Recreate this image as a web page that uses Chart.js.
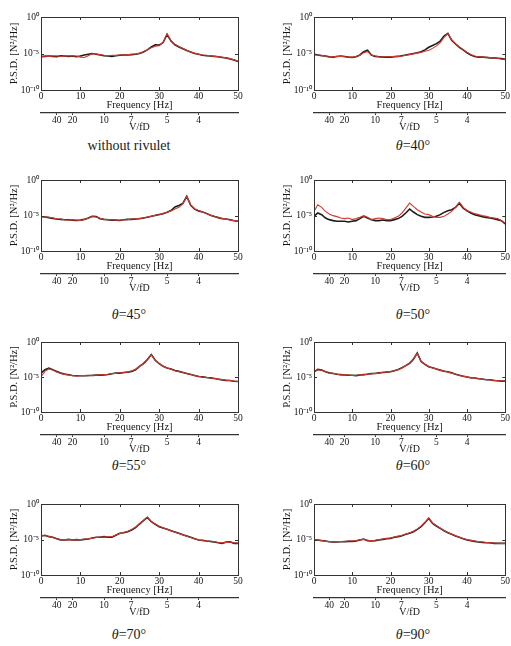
<!DOCTYPE html>
<html>
<head>
<meta charset="utf-8">
<script src="https://cdn.jsdelivr.net/npm/chart.js@4.4.1/dist/chart.umd.min.js"></script>
<style>
  body { margin: 0; background: #fff; width: 511px; height: 646px; overflow: hidden; position: relative; }
  canvas { position: absolute; }
  .cap { position: absolute; width: 200px; text-align: center; font-family: 'Liberation Serif', serif; font-size: 14px; line-height: 16px; color: #1a1a1a; }
</style>
</head>
<body>
<script>
// frequency axis (Hz), one point per Hz
const freq = [0,1,2,3,4,5,6,7,8,9,10,11,12,13,14,15,16,17,18,19,20,21,22,23,24,25,26,27,28,29,30,31,32,33,34,35,36,37,38,39,40,41,42,43,44,45,46,47,48,49,50];

// log10 of P.S.D. [N^2/Hz] (black and red curves)
const noRivuletBlack = [-5.45,-5.40,-5.35,-5.40,-5.45,-5.30,-5.35,-5.40,-5.35,-5.45,-5.35, -5.20,-5.10,-5.00,-5.10,-5.20,-5.30,-5.35,-5.40,-5.30,-5.25, -5.20,-5.20,-5.15,-5.10,-5.00,-4.80,-4.50,-4.10,-3.80,-3.85, -3.50,-2.40,-3.30,-3.80,-4.10,-4.35,-4.60,-4.80,-5.00,-5.10, -5.25,-5.30,-5.35,-5.40,-5.45,-5.55,-5.60,-5.75,-5.90,-6.10];
const noRivuletRed   = [-5.40,-5.35,-5.40,-5.35,-5.30,-5.40,-5.30,-5.35,-5.30,-5.35,-5.50, -5.55,-5.30,-5.05,-5.05,-5.15,-5.25,-5.30,-5.25,-5.25,-5.20, -5.20,-5.15,-5.10,-5.05,-4.95,-4.75,-4.50,-4.20,-4.00,-3.95, -3.45,-2.30,-3.25,-3.75,-4.05,-4.30,-4.55,-4.80,-4.95,-5.10, -5.20,-5.25,-5.30,-5.40,-5.45,-5.50,-5.60,-5.70,-5.85,-6.05];

const deg40Black = [-5.10,-5.20,-5.30,-5.35,-5.45,-5.50,-5.40,-5.35,-5.40,-5.50,-5.55, -5.45,-5.20,-4.75,-4.55,-5.20,-5.40,-5.45,-5.50,-5.50,-5.50, -5.45,-5.40,-5.30,-5.20,-5.10,-5.00,-4.90,-4.75,-4.50,-4.15, -3.90,-3.65,-3.30,-2.60,-2.25,-3.20,-3.70,-4.15,-4.50,-4.90, -5.20,-5.40,-5.50,-5.50,-5.55,-5.60,-5.60,-5.65,-5.70,-5.80];
const deg40Red   = [-5.15,-5.20,-5.25,-5.40,-5.50,-5.45,-5.40,-5.40,-5.45,-5.50,-5.50, -5.40,-5.25,-4.90,-4.75,-5.20,-5.35,-5.45,-5.50,-5.45,-5.45, -5.40,-5.40,-5.35,-5.25,-5.15,-5.05,-4.95,-4.85,-4.70,-4.55, -4.30,-3.95,-3.50,-2.80,-2.30,-3.10,-3.65,-4.10,-4.45,-4.85, -5.15,-5.35,-5.45,-5.50,-5.50,-5.55,-5.60,-5.65,-5.75,-5.80];

const deg45Black = [-5.15,-5.20,-5.30,-5.40,-5.50,-5.55,-5.60,-5.60,-5.65,-5.70,-5.65, -5.55,-5.35,-5.10,-5.15,-5.45,-5.55,-5.60,-5.65,-5.65,-5.70, -5.60,-5.55,-5.55,-5.50,-5.45,-5.35,-5.25,-5.10,-5.00,-4.85, -4.75,-4.55,-4.30,-3.80,-3.60,-3.30,-2.30,-3.55,-4.10,-4.35, -4.50,-4.70,-4.95,-5.15,-5.30,-5.45,-5.50,-5.60,-5.75,-5.80];
const deg45Red   = [-5.10,-5.20,-5.25,-5.35,-5.45,-5.50,-5.60,-5.65,-5.60,-5.65,-5.70, -5.55,-5.40,-5.15,-5.20,-5.40,-5.55,-5.60,-5.60,-5.65,-5.65, -5.60,-5.60,-5.50,-5.45,-5.40,-5.35,-5.20,-5.10,-4.95,-4.90, -4.70,-4.55,-4.35,-4.10,-3.85,-3.35,-2.35,-3.50,-4.05,-4.30, -4.50,-4.75,-4.95,-5.10,-5.30,-5.40,-5.50,-5.65,-5.70,-5.80];

const deg50Black = [-5.12,-4.65,-4.88,-5.35,-5.58,-5.72,-5.81,-5.81,-5.81,-5.91,-5.81, -5.72,-5.44,-5.12,-5.35,-5.58,-5.72,-5.72,-5.63,-5.72,-5.72, -5.58,-5.44,-5.12,-4.65,-4.09,-4.51,-4.88,-5.12,-5.26,-5.26, -5.21,-5.12,-4.88,-4.56,-4.33,-4.19,-3.86,-3.26,-3.95,-4.33, -4.65,-4.88,-5.02,-5.16,-5.26,-5.35,-5.44,-5.58,-5.72,-6.19];
const deg50Red   = [-4.42,-3.49,-3.86,-4.42,-4.79,-5.02,-5.16,-5.35,-5.44,-5.35,-5.58, -5.44,-5.26,-5.02,-5.26,-5.58,-5.44,-5.35,-5.44,-5.58,-5.58, -5.35,-5.12,-4.65,-3.95,-3.26,-3.72,-4.19,-4.51,-4.79,-4.88, -5.12,-5.26,-5.26,-5.12,-4.79,-4.42,-3.86,-3.12,-3.86,-4.33, -4.51,-4.74,-4.88,-5.02,-5.12,-5.26,-5.35,-5.44,-5.72,-6.05];

const deg55Black = [-4.44,-3.96,-3.72,-3.96,-4.20,-4.44,-4.59,-4.69,-4.78,-4.83,-4.83, -4.83,-4.78,-4.78,-4.73,-4.73,-4.69,-4.64,-4.54,-4.44,-4.44, -4.35,-4.30,-4.20,-3.96,-3.48,-3.09,-2.51,-1.79,-2.61,-3.09, -3.48,-3.72,-3.86,-4.06,-4.20,-4.35,-4.49,-4.64,-4.78,-4.93, -4.98,-5.07,-5.12,-5.22,-5.31,-5.41,-5.51,-5.51,-5.60,-5.65];
const deg55Red   = [-4.95,-4.20,-3.85,-4.00,-4.30,-4.50,-4.62,-4.72,-4.80,-4.85,-4.80, -4.80,-4.82,-4.75,-4.76,-4.70,-4.66,-4.60,-4.50,-4.48,-4.40, -4.38,-4.28,-4.15,-3.90,-3.50,-3.15,-2.55,-1.85,-2.65,-3.05, -3.45,-3.70,-3.90,-4.10,-4.22,-4.32,-4.50,-4.62,-4.80,-4.90, -5.00,-5.05,-5.15,-5.20,-5.30,-5.38,-5.45,-5.52,-5.58,-5.65];

const deg60Black = [-4.26,-3.92,-4.02,-4.26,-4.41,-4.51,-4.61,-4.66,-4.71,-4.75,-4.75, -4.80,-4.71,-4.66,-4.61,-4.51,-4.51,-4.41,-4.36,-4.31,-4.26, -4.12,-3.92,-3.68,-3.38,-3.04,-2.45,-1.57,-2.79,-3.19,-3.53, -3.68,-3.87,-4.02,-4.17,-4.26,-4.41,-4.61,-4.75,-4.90,-5.00, -5.10,-5.15,-5.25,-5.29,-5.39,-5.39,-5.49,-5.54,-5.59,-5.59];
const deg60Red   = [-4.30,-3.98,-4.00,-4.20,-4.45,-4.48,-4.58,-4.70,-4.68,-4.72,-4.78, -4.75,-4.68,-4.70,-4.58,-4.55,-4.48,-4.44,-4.32,-4.30,-4.22, -4.10,-3.95,-3.70,-3.35,-3.00,-2.40,-1.62,-2.75,-3.15,-3.50, -3.70,-3.85,-4.05,-4.15,-4.30,-4.45,-4.58,-4.78,-4.88,-4.98, -5.12,-5.12,-5.22,-5.32,-5.35,-5.42,-5.45,-5.55,-5.56,-5.60];

const deg70Black = [-4.51,-4.41,-4.60,-4.69,-4.88,-5.07,-5.07,-4.98,-5.07,-5.02,-5.07, -4.98,-4.93,-4.79,-4.69,-4.69,-4.60,-4.69,-4.69,-4.41,-4.13, -4.04,-3.90,-3.66,-3.33,-2.82,-2.35,-1.88,-2.49,-2.86,-3.19, -3.38,-3.57,-3.76,-3.94,-4.13,-4.32,-4.51,-4.69,-4.88,-5.07, -5.12,-5.21,-5.26,-5.35,-5.45,-5.54,-5.35,-5.31,-5.54,-5.54];
const deg70Red   = [-4.45,-4.48,-4.55,-4.72,-4.90,-5.00,-5.05,-5.02,-5.05,-5.05,-5.00, -4.95,-4.90,-4.82,-4.72,-4.65,-4.65,-4.62,-4.60,-4.38,-4.15, -4.00,-3.85,-3.60,-3.25,-2.75,-2.30,-1.85,-2.45,-2.82,-3.15, -3.35,-3.55,-3.78,-3.98,-4.15,-4.35,-4.55,-4.72,-4.90,-5.05, -5.15,-5.18,-5.28,-5.32,-5.42,-5.50,-5.40,-5.35,-5.50,-5.50];

const deg90Black = [-5.07,-5.07,-5.16,-5.21,-5.31,-5.35,-5.35,-5.31,-5.31,-5.26,-5.26, -5.21,-5.07,-4.93,-5.16,-5.21,-5.16,-5.07,-4.98,-4.88,-4.84, -4.69,-4.60,-4.46,-4.27,-4.13,-3.90,-3.57,-3.19,-2.63,-2.02, -2.72,-3.10,-3.43,-3.76,-4.04,-4.27,-4.51,-4.69,-4.88,-5.07, -5.16,-5.26,-5.35,-5.40,-5.45,-5.45,-5.54,-5.54,-5.54,-5.54];
const deg90Red   = [-5.02,-5.10,-5.15,-5.25,-5.30,-5.32,-5.30,-5.28,-5.25,-5.22,-5.20, -5.15,-5.05,-4.98,-5.10,-5.15,-5.10,-5.02,-4.92,-4.85,-4.78, -4.65,-4.52,-4.40,-4.22,-4.05,-3.85,-3.50,-3.12,-2.58,-2.00, -2.68,-3.05,-3.38,-3.72,-4.00,-4.25,-4.48,-4.68,-4.85,-5.02, -5.12,-5.22,-5.30,-5.36,-5.42,-5.48,-5.50,-5.52,-5.55,-5.55];

const captions = ['without rivulet', '40', '45', '50', '55', '60', '70', '90'];
const blackSeries = [noRivuletBlack, deg40Black, deg45Black, deg50Black, deg55Black, deg60Black, deg70Black, deg90Black];
const redSeries = [noRivuletRed, deg40Red, deg45Red, deg50Red, deg55Red, deg60Red, deg70Red, deg90Red];

// tick labels
const freqTicks = [0, 10, 20, 30, 40, 50];
const vfdTicks = [40, 20, 10, 7, 5, 4];
const vfdConst = 160;          // V/fD = 160 / f
const yTickExps = [-10, -5, 0];

// layout of the 2x4 grid (pixels)
const colLeft = [0, 273];
const colWidth = [250, 238];
const capCenter = [129, 413];
const rowTop = [5, 168, 330, 492];
const rowHeight = [128, 126, 125, 126];
const capTop = [138, 307, 458, 627];

const serif = "'Liberation Serif', 'Times New Roman', serif";
Chart.defaults.font.family = serif;
Chart.defaults.color = '#141414';

const supDigits = { '-': '\u207B', '0': '\u2070', '1': '\u00B9', '2': '\u00B2', '3': '\u00B3', '4': '\u2074', '5': '\u2075', '6': '\u2076', '7': '\u2077', '8': '\u2078', '9': '\u2079' };
function sup(n) {
  return String(n).split('').map(c => supDigits[c]).join('');
}

// box around the plot area with small inward ticks
const framePlugin = {
  id: 'frame',
  afterDraw(chart) {
    const { ctx, chartArea: a, scales } = chart;
    ctx.save();
    ctx.strokeStyle = '#333';
    ctx.lineWidth = 1;
    ctx.strokeRect(Math.round(a.left) + 0.5, Math.round(a.top) + 0.5, Math.round(a.right - a.left), Math.round(a.bottom - a.top));
    ctx.beginPath();
    scales.x.ticks.forEach(t => {
      const px = Math.round(scales.x.getPixelForValue(t.value)) + 0.5;
      ctx.moveTo(px, a.top); ctx.lineTo(px, a.top + 3);
      ctx.moveTo(px, a.bottom); ctx.lineTo(px, a.bottom - 3);
    });
    scales.y.ticks.forEach(t => {
      const py = Math.round(scales.y.getPixelForValue(t.value)) + 0.5;
      ctx.moveTo(a.left, py); ctx.lineTo(a.left + 3, py);
      ctx.moveTo(a.right, py); ctx.lineTo(a.right - 3, py);
    });
    ctx.stroke();
    ctx.restore();
  }
};

function points(exps) {
  return freq.map((f, i) => ({ x: f, y: Math.pow(10, exps[i]) }));
}

for (let i = 0; i < 8; i++) {
  const col = i % 2, row = Math.floor(i / 2);
  const cv = document.createElement('canvas');
  cv.width = colWidth[col];
  cv.height = rowHeight[row];
  cv.style.left = colLeft[col] + 'px';
  cv.style.top = rowTop[row] + 'px';
  document.body.appendChild(cv);

  new Chart(cv, {
    type: 'line',
    data: {
      datasets: [
        { data: points(redSeries[i]), borderColor: '#d2392c', borderWidth: 1.1, pointRadius: 0, order: 1, xAxisID: 'x', yAxisID: 'y' },
        { data: points(blackSeries[i]), borderColor: '#1c1c1c', borderWidth: 1.6, pointRadius: 0, order: 2, xAxisID: 'x', yAxisID: 'y' }
      ]
    },
    options: {
      responsive: false,
      animation: false,
      layout: { autoPadding: false, padding: { top: 12, left: 0, right: col === 0 ? 12 : 3, bottom: 0 } },
      plugins: { legend: { display: false }, tooltip: { enabled: false } },
      scales: {
        x: {
          type: 'linear', position: 'bottom', weight: 0, min: 0, max: 50,
          afterBuildTicks: s => { s.ticks = freqTicks.map(v => ({ value: v })); },
          ticks: { font: { size: 9.5 }, padding: 1, maxRotation: 0, autoSkip: false },
          grid: { display: false, drawTicks: false },
          border: { display: false },
          title: { display: true, text: 'Frequency [Hz]', font: { size: 10.5 }, padding: { top: 0, bottom: 1 } },
          afterFit: s => { s.height = 23; }
        },
        v: {
          type: 'linear', axis: 'x', position: 'bottom', weight: 1, min: 0, max: 50,
          afterBuildTicks: s => { s.ticks = vfdTicks.map(v => ({ value: vfdConst / v })); },
          ticks: { font: { size: 9.5 }, padding: 0, maxRotation: 0, autoSkip: false,
                   callback: value => Math.round(vfdConst / value) },
          grid: { drawOnChartArea: false, tickLength: 2, color: '#333' },
          border: { display: true, color: '#333', width: 1.3 },
          title: { display: true, text: 'V/fD', font: { size: 10 }, padding: 0 },
          afterFit: s => { s.height = 20; }
        },
        y: {
          type: 'logarithmic', position: 'left', min: 1e-10, max: 1,
          afterBuildTicks: s => { s.ticks = yTickExps.map(e => ({ value: Math.pow(10, e) })); },
          ticks: { font: { size: 9.5 }, padding: 2, autoSkip: false,
                   callback: value => '10' + sup(Math.round(Math.log10(value))) },
          grid: { display: false, drawTicks: false },
          border: { display: false },
          title: { display: true, text: 'P.S.D. [N\u00B2/Hz]', font: { size: 10.5 }, padding: { top: 8, bottom: 0 } },
          afterFit: s => { s.width = 41; }
        }
      }
    },
    plugins: [framePlugin]
  });

  const cap = document.createElement('div');
  cap.className = 'cap';
  cap.style.left = (capCenter[col] - 100) + 'px';
  cap.style.top = capTop[row] + 'px';
  if (i === 0) cap.textContent = captions[i];
  else cap.innerHTML = '<i>\u03B8</i>=' + captions[i] + '\u00B0';
  document.body.appendChild(cap);
}
</script>
</body>
</html>
